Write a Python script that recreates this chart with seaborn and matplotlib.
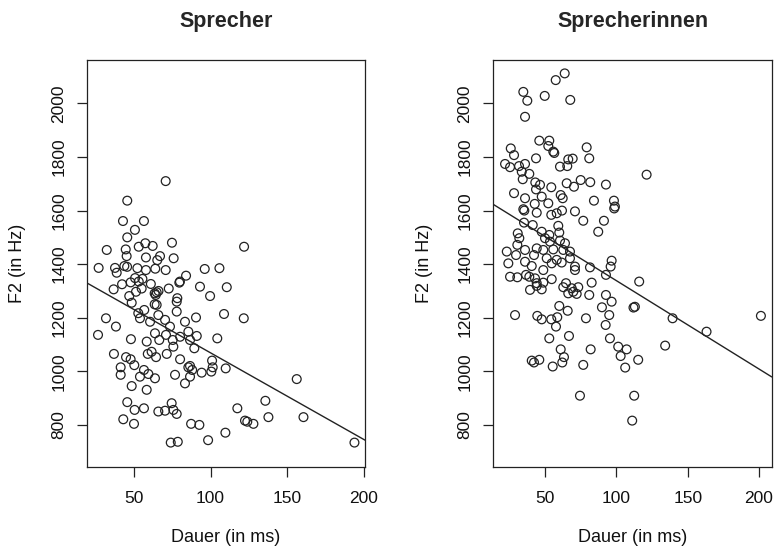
import matplotlib
matplotlib.use("Agg")
import matplotlib.pyplot as plt
import seaborn as sns
import numpy as np
import pandas as pd

# ---------------- data ----------------
titles = ["Sprecher", "Sprecherinnen"]
x_label = "Dauer (in ms)"
y_label = "F2 (in Hz)"
x_ticks = [50, 100, 150, 200]
y_ticks = [800, 1000, 1200, 1400, 1600, 1800, 2000]

m_dauer = [70.7, 45.6, 42.8, 56.5, 50.6, 45.6, 32.2, 44.6, 53.1, 57.4, 62.2, 74.8, 121.9,
           45.2, 57.8, 67.0, 75.9, 65.2, 26.9, 37.6, 38.7, 43.7, 45.5, 52.2, 57.8, 63.9,
           70.7, 96.2, 105.8, 50.7, 53.1, 47.8, 42.2, 61.0, 79.6, 84.0, 93.1, 110.6, 36.7,
           51.3, 55.0, 63.5, 72.7, 99.7, 46.9, 64.2, 78.3, 48.5, 64.8, 77.9, 31.7, 38.2,
           26.5, 52.8, 53.9, 56.7, 60.5, 65.9, 70.3, 73.5, 77.9, 83.3, 90.5, 108.8, 121.7,
           48.0, 58.3, 63.7, 66.5, 70.9, 75.3, 75.7, 80.1, 85.5, 86.6, 91.0, 89.4, 104.4,
           36.9, 44.8, 47.8, 59.0, 61.5, 64.4, 71.4, 80.1, 101.0, 41.3, 41.3, 50.2, 56.5,
           59.4, 53.9, 63.7, 76.8, 85.5, 86.6, 94.2, 100.5, 101.4, 109.9, 83.3, 48.5, 58.3,
           156.3, 45.6, 50.4, 56.5, 65.9, 70.3, 74.6, 75.7, 77.9, 117.5, 135.8, 43.0, 50.0,
           87.3, 92.7, 122.5, 124.0, 128.0, 137.8, 160.7, 109.7, 74.0, 78.6, 98.4, 194.0,
           64.8, 63.5, 86.6, 88.0, 55.5, 66.0, 80.0]
m_f2 = [1710, 1637, 1561, 1561, 1528, 1500, 1453, 1455, 1465, 1478, 1468, 1480, 1465,
        1430, 1425, 1430, 1422, 1415, 1386, 1386, 1368, 1393, 1390, 1385, 1378, 1383,
        1378, 1382, 1385, 1348, 1335, 1332, 1325, 1326, 1331, 1357, 1316, 1314, 1306,
        1297, 1309, 1291, 1309, 1281, 1281, 1285, 1273, 1256, 1248, 1260, 1198, 1167,
        1136, 1217, 1198, 1229, 1185, 1210, 1192, 1167, 1223, 1185, 1201, 1214, 1198,
        1120, 1111, 1142, 1117, 1136, 1117, 1092, 1129, 1148, 1117, 1132, 1086, 1123,
        1065, 1053, 1045, 1065, 1073, 1053, 1065, 1045, 1040, 1015, 987, 1023, 1005,
        990, 980, 974, 987, 1015, 980, 995, 999, 1015, 1011, 955, 945, 931,
        971, 885, 856, 862, 850, 853, 881, 856, 841, 862, 890, 821, 804,
        804, 800, 816, 812, 804, 829, 829, 771, 734, 737, 743, 734,
        1295, 1250, 1020, 1005, 1345, 1300, 1335]

f_dauer = [63.8, 57.5, 34.8, 37.6, 49.8, 67.7, 36.0, 46.0, 53.0, 52.3, 55.8, 56.5, 79.2,
           81.0, 26.0, 28.3, 43.7, 66.3, 69.4, 22.0, 25.5, 31.8, 36.0, 60.5, 65.6, 33.7,
           39.0, 34.4, 121.2, 43.2, 46.5, 54.4, 65.2, 70.3, 75.0, 81.7, 92.7, 43.7, 28.3,
           36.0, 47.7, 61.0, 62.4, 84.3, 98.3, 99.0, 98.5, 42.8, 52.3, 34.8, 35.5, 44.2,
           54.4, 58.2, 61.9, 71.0, 91.3, 76.8, 35.3, 41.4, 87.3, 47.7, 59.3, 53.0, 60.0,
           30.9, 32.0, 50.0, 53.5, 60.5, 64.0, 30.6, 44.2, 48.8, 55.8, 62.8, 67.5, 23.2,
           36.0, 29.7, 42.3, 51.2, 58.2, 67.5, 24.3, 36.0, 54.7, 61.7, 40.7, 71.0, 96.7,
           96.0, 81.5, 48.8, 71.0, 25.5, 30.6, 36.7, 39.0, 43.0, 54.7, 92.7, 116.0, 64.7,
           82.7, 44.2, 48.8, 39.5, 47.7, 62.8, 68.7, 73.3, 81.0, 92.7, 44.2, 66.3, 69.8,
           72.2, 96.7, 113.0, 112.0, 60.0, 65.9, 89.9, 29.0, 44.6, 47.7, 54.4, 58.6, 57.7,
           78.7, 95.0, 92.5, 139.4, 201.3, 163.2, 53.0, 66.8, 95.5, 134.2, 61.0, 82.0,
           101.3, 107.2, 63.3, 103.0, 40.7, 42.3, 46.0, 62.1, 76.8, 115.3, 55.4, 106.2,
           74.5, 112.5, 111.1]
f_f2 = [2112, 2087, 2043, 2010, 2028, 2013, 1950, 1861, 1861, 1841, 1820, 1815, 1836,
        1795, 1832, 1807, 1795, 1791, 1794, 1774, 1762, 1766, 1774, 1764, 1766, 1745,
        1737, 1717, 1734, 1705, 1696, 1687, 1702, 1689, 1714, 1706, 1697, 1679, 1665,
        1646, 1652, 1658, 1646, 1637, 1637, 1615, 1608, 1625, 1627, 1605, 1600, 1592,
        1584, 1590, 1600, 1597, 1562, 1562, 1555, 1546, 1521, 1521, 1543, 1509, 1518,
        1515, 1497, 1497, 1484, 1488, 1478, 1472, 1459, 1453, 1455, 1453, 1447, 1447,
        1453, 1434, 1434, 1422, 1416, 1422, 1403, 1409, 1403, 1406, 1393, 1391, 1413,
        1391, 1388, 1378, 1378, 1353, 1351, 1360, 1353, 1347, 1344, 1360, 1335, 1329,
        1331, 1329, 1331, 1304, 1306, 1314, 1310, 1314, 1285, 1285, 1319, 1291, 1297,
        1289, 1260, 1241, 1238, 1244, 1226, 1239, 1210, 1207, 1194, 1194, 1202, 1167,
        1198, 1210, 1173, 1198, 1207, 1148, 1123, 1132, 1123, 1096, 1082, 1082,
        1092, 1082, 1053, 1057, 1040, 1033, 1043, 1033, 1024, 1043, 1018, 1014,
        909, 909, 816]

# regression lines (intercept, slope)
m_fit = (1392.0, -3.23)
f_fit = (1668.5, -3.30)

x_lims = [(19.3, 200.9), (13.8, 208.9)]
y_lim = (643, 2162)

# ---------------- plotting ----------------
sns.set_style("white")
plt.rcParams["font.family"] = ["Liberation Sans", "DejaVu Sans"]

fig = plt.figure(figsize=(7.74, 5.51), dpi=100)
ax_pos = [[0.1124, 0.1525, 0.3592, 0.7386],
          [0.6374, 0.1525, 0.3597, 0.7386]]

datasets = [(m_dauer, m_f2, m_fit), (f_dauer, f_f2, f_fit)]
for i, (xs, ys, fit) in enumerate(datasets):
    ax = fig.add_axes(ax_pos[i])
    df = pd.DataFrame({"Dauer": xs, "F2": ys})
    sns.scatterplot(data=df, x="Dauer", y="F2", ax=ax, marker="o", s=40,
                    facecolor="none", edgecolor="#222222", linewidth=0.9)
    ax.axline((0, fit[0]), slope=fit[1], color="#222222", linewidth=1.0)
    ax.set_xlim(*x_lims[i])
    ax.set_ylim(*y_lim)
    ax.set_xticks(x_ticks)
    ax.set_yticks(y_ticks)
    ax.set_yticklabels([str(t) for t in y_ticks], rotation=90, va="center")
    ax.tick_params(axis="both", direction="out", length=7, width=0.9,
                   color="#222222", labelsize=12.5, labelcolor="#111111",
                   bottom=True, left=True)
    ax.tick_params(axis="x", pad=10)
    ax.tick_params(axis="y", pad=8)
    for sp in ax.spines.values():
        sp.set_visible(True)
        sp.set_color("#222222")
        sp.set_linewidth(0.9)
    ax.set_xlabel(x_label, fontsize=13, labelpad=17, color="#111111")
    ax.set_ylabel(y_label, fontsize=13, labelpad=18, color="#111111")
    ax.set_title(titles[i], fontsize=15.5, fontweight="bold", pad=24)
    ax.grid(False)

fig.savefig("out.png", dpi=100)
